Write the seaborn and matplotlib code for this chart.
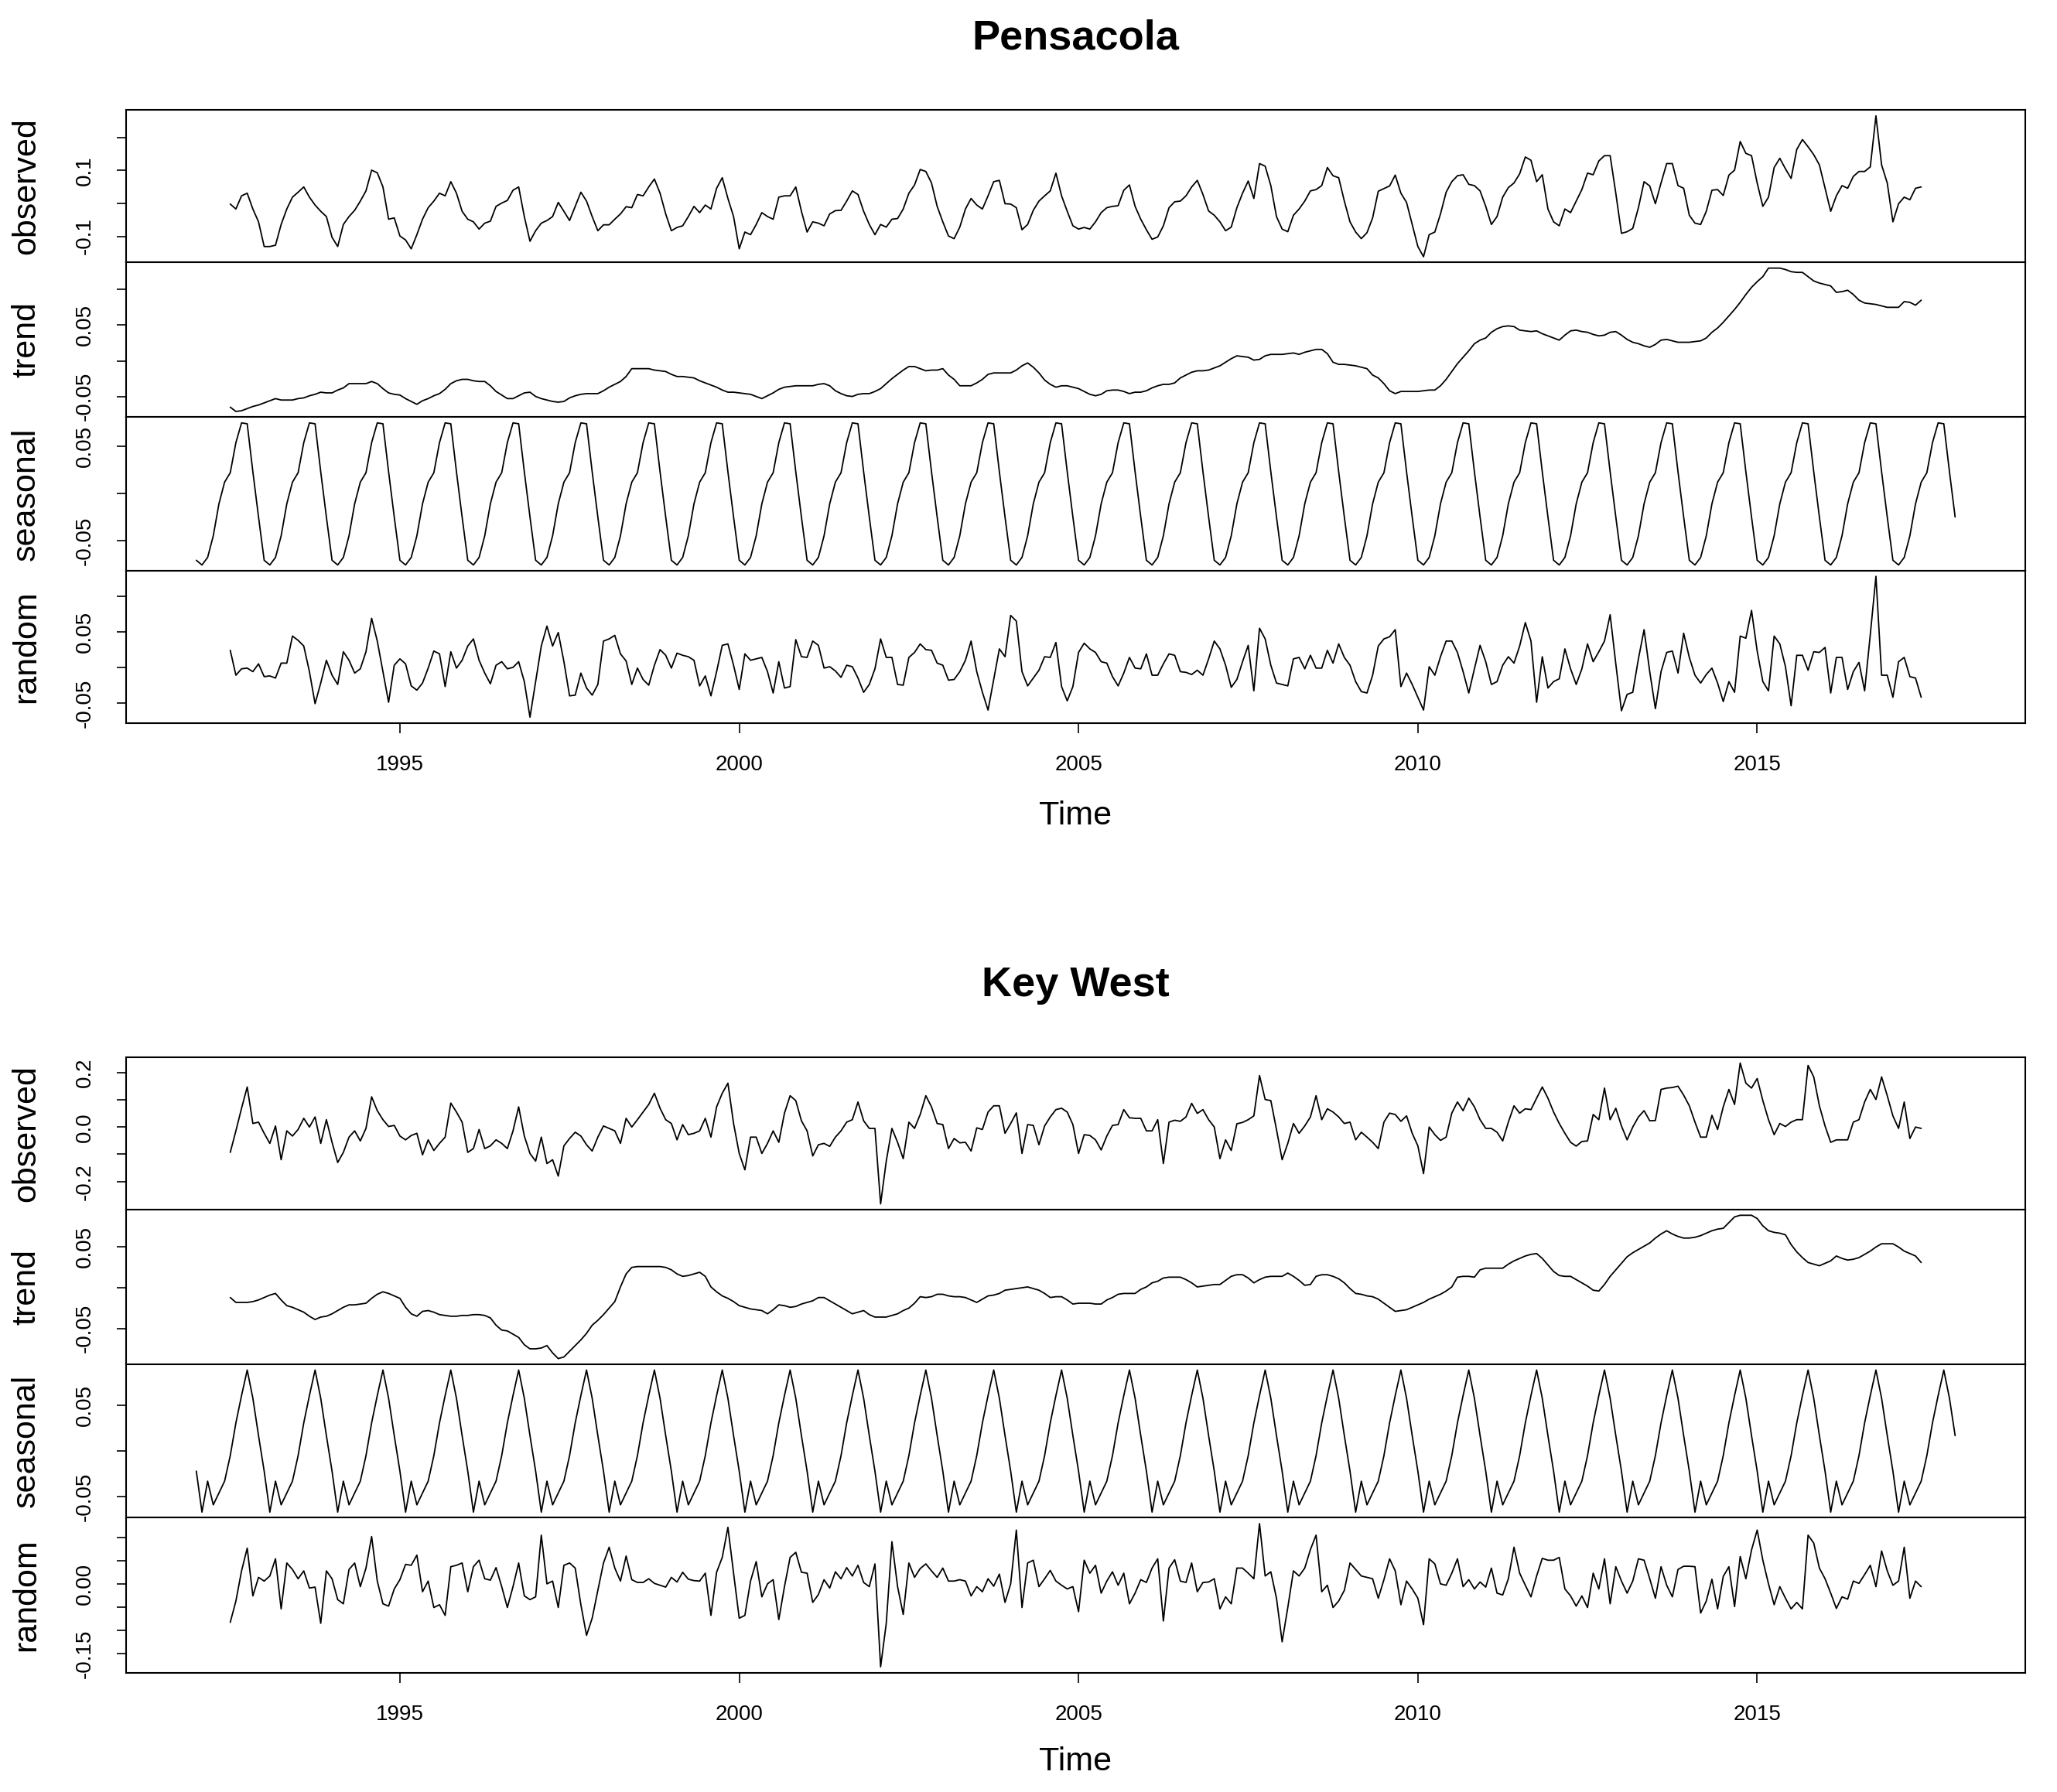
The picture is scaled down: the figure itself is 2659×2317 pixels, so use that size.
import numpy as np
import matplotlib
matplotlib.use("Agg")
import matplotlib.pyplot as plt
import seaborn as sns

# monthly series, observed / trend / random: Jul 1992 .. Jun 2017 (one row = Jul..Jun)
pens_observed = [
    -0.002, -0.017, 0.023, 0.031, -0.017, -0.056, -0.131, -0.131, -0.127, -0.064, -0.017, 0.019,
    0.034, 0.050, 0.019, -0.005, -0.024, -0.040, -0.103, -0.131, -0.064, -0.040, -0.021, 0.007,
    0.038, 0.101, 0.093, 0.050, -0.048, -0.044, -0.099, -0.111, -0.138, -0.095, -0.048, -0.013,
    0.007, 0.031, 0.023, 0.066, 0.031, -0.024, -0.048, -0.056, -0.078, -0.060, -0.054, -0.009,
    0.001, 0.009, 0.040, 0.050, -0.040, -0.115, -0.083, -0.060, -0.052, -0.040, 0.003, -0.024,
    -0.052, -0.009, 0.034, 0.007, -0.040, -0.083, -0.065, -0.065, -0.048, -0.032, -0.010, -0.013,
    0.027, 0.023, 0.050, 0.074, 0.031, -0.032, -0.083, -0.073, -0.068, -0.040, -0.009, -0.028,
    -0.005, -0.017, 0.046, 0.078, 0.015, -0.040, -0.138, -0.087, -0.095, -0.064, -0.028, -0.040,
    -0.048, 0.019, 0.023, 0.023, 0.050, -0.024, -0.087, -0.056, -0.060, -0.068, -0.032, -0.022,
    -0.021, 0.007, 0.038, 0.027, -0.024, -0.064, -0.095, -0.064, -0.072, -0.048, -0.046, -0.017,
    0.031, 0.056, 0.103, 0.097, 0.062, -0.009, -0.056, -0.099, -0.107, -0.072, -0.017, 0.015,
    -0.005, -0.017, 0.023, 0.066, 0.070, -0.001, -0.002, -0.013, -0.080, -0.064, -0.021, 0.007,
    0.023, 0.038, 0.092, 0.023, -0.024, -0.068, -0.078, -0.073, -0.078, -0.056, -0.028, -0.013,
    -0.009, -0.007, 0.040, 0.056, -0.009, -0.048, -0.080, -0.109, -0.102, -0.068, -0.013, 0.005,
    0.007, 0.023, 0.050, 0.070, 0.027, -0.023, -0.036, -0.056, -0.083, -0.072, -0.013, 0.031,
    0.068, 0.015, 0.121, 0.113, 0.054, -0.040, -0.078, -0.086, -0.036, -0.017, 0.007, 0.038,
    0.042, 0.054, 0.109, 0.084, 0.078, 0.007, -0.056, -0.087, -0.107, -0.089, -0.044, 0.037,
    0.045, 0.053, 0.086, 0.031, 0.003, -0.064, -0.131, -0.162, -0.095, -0.087, -0.032, 0.034,
    0.066, 0.084, 0.087, 0.058, 0.054, 0.038, -0.009, -0.064, -0.040, 0.019, 0.048, 0.062,
    0.090, 0.141, 0.131, 0.066, 0.087, -0.017, -0.056, -0.068, -0.017, -0.028, 0.007, 0.042,
    0.092, 0.087, 0.129, 0.145, 0.145, 0.031, -0.091, -0.086, -0.076, -0.013, 0.066, 0.053,
    -0.001, 0.062, 0.121, 0.121, 0.054, 0.046, -0.036, -0.060, -0.064, -0.024, 0.040, 0.042,
    0.024, 0.086, 0.101, 0.188, 0.152, 0.145, 0.062, -0.009, 0.019, 0.109, 0.137, 0.105,
    0.076, 0.164, 0.194, 0.172, 0.148, 0.117, 0.046, -0.024, 0.023, 0.054, 0.046, 0.082,
    0.097, 0.097, 0.111, 0.266, 0.117, 0.062, -0.056, -0.001, 0.019, 0.011, 0.046, 0.050,
]

pens_trend = [
    -0.065, -0.071, -0.070, -0.067, -0.064, -0.062, -0.059, -0.056, -0.053, -0.055, -0.055, -0.055,
    -0.053, -0.052, -0.049, -0.047, -0.044, -0.045, -0.045, -0.041, -0.038, -0.032, -0.032, -0.032,
    -0.032, -0.029, -0.032, -0.039, -0.045, -0.047, -0.048, -0.053, -0.057, -0.061, -0.056, -0.053,
    -0.049, -0.046, -0.040, -0.032, -0.028, -0.026, -0.026, -0.028, -0.029, -0.029, -0.035, -0.043,
    -0.048, -0.053, -0.053, -0.049, -0.045, -0.044, -0.050, -0.053, -0.055, -0.057, -0.058, -0.057,
    -0.052, -0.049, -0.047, -0.046, -0.046, -0.046, -0.042, -0.037, -0.033, -0.029, -0.022, -0.011,
    -0.011, -0.011, -0.011, -0.013, -0.014, -0.015, -0.019, -0.022, -0.022, -0.023, -0.024, -0.028,
    -0.031, -0.034, -0.037, -0.041, -0.044, -0.044, -0.045, -0.046, -0.047, -0.050, -0.053, -0.049,
    -0.045, -0.040, -0.037, -0.036, -0.035, -0.035, -0.035, -0.035, -0.033, -0.032, -0.035, -0.042,
    -0.046, -0.049, -0.050, -0.047, -0.046, -0.046, -0.043, -0.039, -0.032, -0.025, -0.019, -0.013,
    -0.008, -0.008, -0.011, -0.014, -0.013, -0.013, -0.011, -0.020, -0.026, -0.035, -0.035, -0.035,
    -0.031, -0.026, -0.019, -0.017, -0.017, -0.017, -0.017, -0.013, -0.007, -0.003, -0.009, -0.017,
    -0.027, -0.033, -0.037, -0.035, -0.035, -0.037, -0.039, -0.043, -0.047, -0.049, -0.047, -0.042,
    -0.041, -0.041, -0.043, -0.046, -0.044, -0.044, -0.042, -0.038, -0.035, -0.033, -0.033, -0.031,
    -0.024, -0.020, -0.016, -0.014, -0.014, -0.013, -0.010, -0.007, -0.002, 0.003, 0.007, 0.006,
    0.005, 0.001, 0.002, 0.007, 0.009, 0.009, 0.009, 0.010, 0.011, 0.009, 0.012, 0.014,
    0.016, 0.016, 0.010, -0.002, -0.005, -0.005, -0.006, -0.007, -0.009, -0.011, -0.020, -0.024,
    -0.032, -0.042, -0.046, -0.043, -0.043, -0.043, -0.043, -0.042, -0.041, -0.041, -0.035, -0.026,
    -0.015, -0.004, 0.005, 0.014, 0.024, 0.029, 0.032, 0.040, 0.045, 0.048, 0.049, 0.048,
    0.043, 0.042, 0.041, 0.042, 0.038, 0.035, 0.032, 0.029, 0.036, 0.042, 0.043, 0.041,
    0.040, 0.037, 0.035, 0.036, 0.040, 0.041, 0.036, 0.030, 0.026, 0.024, 0.021, 0.019,
    0.023, 0.029, 0.030, 0.028, 0.026, 0.026, 0.026, 0.027, 0.028, 0.032, 0.040, 0.046,
    0.054, 0.063, 0.072, 0.082, 0.093, 0.103, 0.111, 0.118, 0.130, 0.130, 0.130, 0.128,
    0.125, 0.124, 0.124, 0.118, 0.112, 0.109, 0.107, 0.105, 0.096, 0.097, 0.099, 0.093,
    0.085, 0.081, 0.080, 0.079, 0.077, 0.075, 0.075, 0.075, 0.083, 0.082, 0.078, 0.085,
]

# seasonal figure, Jan..Dec (repeats every year of the decomposition)
pens_seasonal_12 = [-0.071, -0.076, -0.068, -0.045, -0.011, 0.012,
                    0.022, 0.054, 0.075, 0.074, 0.023, -0.025]

pens_random = [
    0.024, -0.011, -0.002, -0.001, -0.006, 0.005, -0.013, -0.012, -0.015, 0.006, 0.006, 0.044,
    0.038, 0.030, -0.006, -0.051, -0.022, 0.010, -0.011, -0.024, 0.022, 0.010, -0.008, -0.002,
    0.022, 0.069, 0.037, -0.006, -0.049, 0.003, 0.012, 0.005, -0.026, -0.032, -0.022, -0.001,
    0.023, 0.019, -0.027, 0.022, -0.001, 0.010, 0.030, 0.040, 0.010, -0.008, -0.023, 0.003,
    0.008, -0.002, 0.000, 0.008, -0.020, -0.070, -0.020, 0.030, 0.058, 0.030, 0.049, 0.008,
    -0.040, -0.039, -0.008, -0.029, -0.039, -0.024, 0.037, 0.040, 0.045, 0.019, 0.009, -0.024,
    -0.001, -0.017, -0.025, 0.003, 0.025, 0.017, -0.001, 0.020, 0.017, 0.015, 0.010, -0.026,
    -0.012, -0.040, -0.006, 0.031, 0.033, 0.003, -0.031, 0.019, 0.010, 0.012, 0.014, -0.006,
    -0.036, 0.008, -0.029, -0.027, 0.039, 0.015, 0.014, 0.037, 0.031, -0.001, 0.001, -0.005,
    -0.014, 0.003, 0.001, -0.015, -0.035, -0.024, -0.002, 0.040, 0.014, 0.014, -0.024, -0.025,
    0.014, 0.021, 0.033, 0.025, 0.024, 0.006, 0.003, -0.018, -0.017, -0.006, 0.010, 0.037,
    -0.006, -0.035, -0.060, -0.017, 0.026, 0.015, 0.073, 0.065, -0.006, -0.026, -0.015, -0.004,
    0.015, 0.014, 0.035, -0.027, -0.047, -0.027, 0.021, 0.034, 0.026, 0.021, 0.008, 0.006,
    -0.013, -0.026, -0.008, 0.014, -0.001, -0.002, 0.019, -0.011, -0.011, 0.005, 0.019, 0.017,
    -0.006, -0.007, -0.010, -0.004, -0.011, 0.012, 0.037, 0.026, 0.003, -0.028, -0.017, 0.008,
    0.031, -0.033, 0.055, 0.040, 0.003, -0.022, -0.024, -0.026, 0.012, 0.014, -0.002, 0.017,
    -0.001, -0.001, 0.024, 0.006, 0.033, 0.014, 0.003, -0.020, -0.034, -0.036, -0.011, 0.030,
    0.040, 0.043, 0.053, -0.027, -0.008, -0.024, -0.042, -0.060, 0.001, -0.011, 0.015, 0.037,
    0.037, 0.021, -0.006, -0.036, -0.002, 0.031, 0.008, -0.024, -0.020, 0.003, 0.015, 0.006,
    0.030, 0.063, 0.037, -0.049, 0.015, -0.029, -0.020, -0.016, 0.026, -0.002, -0.024, -0.002,
    0.033, 0.008, 0.022, 0.037, 0.074, 0.005, -0.061, -0.038, -0.035, 0.012, 0.053, -0.006,
    -0.058, -0.006, 0.021, 0.023, -0.008, 0.048, 0.014, -0.011, -0.022, -0.010, -0.001, -0.022,
    -0.048, -0.020, -0.035, 0.044, 0.041, 0.080, 0.023, -0.020, -0.033, 0.044, 0.033, 0.001,
    -0.054, 0.017, 0.017, -0.004, 0.022, 0.021, 0.028, -0.036, 0.014, 0.014, -0.031, -0.006,
    0.007, -0.033, 0.046, 0.128, -0.011, -0.011, -0.042, 0.008, 0.014, -0.013, -0.015, -0.042,
]

kw_observed = [
    -0.093, -0.014, 0.069, 0.147, 0.013, 0.018, -0.023, -0.060, 0.004, -0.120, -0.014, -0.033,
    -0.009, 0.032, 0.000, 0.037, -0.060, 0.027, -0.056, -0.130, -0.093, -0.037, -0.014, -0.051,
    -0.005, 0.111, 0.060, 0.027, 0.002, 0.006, -0.033, -0.047, -0.031, -0.023, -0.102, -0.047,
    -0.086, -0.060, -0.037, 0.088, 0.055, 0.018, -0.093, -0.079, -0.009, -0.079, -0.069, -0.047,
    -0.060, -0.079, -0.014, 0.074, -0.033, -0.097, -0.125, -0.037, -0.134, -0.120, -0.180, -0.069,
    -0.042, -0.019, -0.033, -0.065, -0.088, -0.037, 0.004, -0.005, -0.014, -0.060, 0.032, 0.000,
    0.027, 0.055, 0.083, 0.124, 0.069, 0.027, 0.013, -0.047, 0.009, -0.028, -0.023, -0.014,
    0.032, -0.037, 0.074, 0.124, 0.161, 0.013, -0.097, -0.157, -0.037, -0.037, -0.097, -0.060,
    -0.014, -0.056, 0.051, 0.115, 0.097, 0.023, -0.014, -0.106, -0.065, -0.060, -0.071, -0.037,
    -0.014, 0.018, 0.027, 0.092, 0.023, -0.005, -0.005, -0.282, -0.125, -0.005, -0.056, -0.116,
    0.018, -0.005, 0.046, 0.115, 0.074, 0.013, 0.009, -0.079, -0.042, -0.058, -0.056, -0.088,
    -0.003, -0.009, 0.055, 0.078, 0.078, -0.023, 0.013, 0.052, -0.097, 0.009, 0.006, -0.065,
    0.004, 0.037, 0.064, 0.069, 0.055, 0.009, -0.097, -0.028, -0.031, -0.047, -0.084, -0.033,
    0.006, 0.009, 0.064, 0.034, 0.032, 0.032, -0.014, -0.014, 0.027, -0.134, 0.018, 0.025,
    0.021, 0.037, 0.087, 0.050, 0.064, 0.027, 0.000, -0.116, -0.047, -0.086, 0.012, 0.017,
    0.027, 0.041, 0.189, 0.101, 0.097, -0.009, -0.120, -0.060, 0.013, -0.023, 0.004, 0.037,
    0.115, 0.027, 0.067, 0.055, 0.037, 0.013, 0.018, -0.047, -0.019, -0.037, -0.056, -0.079,
    0.018, 0.051, 0.046, 0.021, 0.041, -0.023, -0.069, -0.171, 0.000, -0.028, -0.049, -0.037,
    0.051, 0.092, 0.060, 0.106, 0.074, 0.027, -0.005, -0.005, -0.019, -0.051, 0.018, 0.078,
    0.051, 0.067, 0.064, 0.106, 0.147, 0.106, 0.055, 0.013, -0.023, -0.056, -0.070, -0.053,
    -0.051, 0.046, 0.027, 0.143, 0.027, 0.069, 0.004, -0.047, 0.000, 0.037, 0.060, 0.023,
    0.024, 0.138, 0.143, 0.145, 0.150, 0.117, 0.078, 0.018, -0.037, -0.037, 0.043, -0.009,
    0.074, 0.138, 0.083, 0.235, 0.161, 0.143, 0.178, 0.097, 0.027, -0.028, 0.013, 0.002,
    0.018, 0.027, 0.027, 0.226, 0.184, 0.078, 0.004, -0.056, -0.047, -0.047, -0.047, 0.018,
    0.027, 0.092, 0.138, 0.101, 0.184, 0.115, 0.041, -0.005, 0.092, -0.042, 0.000, -0.005,
]

kw_trend = [
    -0.012, -0.018, -0.018, -0.018, -0.017, -0.015, -0.012, -0.009, -0.007, -0.015, -0.022, -0.024,
    -0.027, -0.030, -0.035, -0.039, -0.036, -0.035, -0.032, -0.028, -0.024, -0.021, -0.021, -0.020,
    -0.019, -0.013, -0.008, -0.005, -0.007, -0.010, -0.013, -0.024, -0.032, -0.035, -0.029, -0.028,
    -0.030, -0.033, -0.034, -0.035, -0.035, -0.034, -0.034, -0.033, -0.033, -0.034, -0.037, -0.046,
    -0.052, -0.053, -0.057, -0.061, -0.070, -0.075, -0.075, -0.074, -0.071, -0.080, -0.087, -0.085,
    -0.078, -0.071, -0.064, -0.056, -0.046, -0.040, -0.033, -0.025, -0.017, 0.001, 0.017, 0.025,
    0.026, 0.026, 0.026, 0.026, 0.026, 0.025, 0.022, 0.017, 0.014, 0.015, 0.017, 0.019,
    0.014, 0.001, -0.005, -0.010, -0.013, -0.017, -0.022, -0.024, -0.026, -0.027, -0.028, -0.032,
    -0.027, -0.021, -0.022, -0.024, -0.023, -0.020, -0.018, -0.016, -0.012, -0.012, -0.016, -0.020,
    -0.024, -0.028, -0.032, -0.030, -0.028, -0.033, -0.036, -0.036, -0.036, -0.034, -0.032, -0.028,
    -0.025, -0.019, -0.011, -0.012, -0.011, -0.008, -0.008, -0.010, -0.011, -0.011, -0.012, -0.015,
    -0.018, -0.014, -0.010, -0.009, -0.007, -0.003, -0.002, -0.001, 0.000, 0.001, -0.001, -0.003,
    -0.007, -0.012, -0.011, -0.011, -0.015, -0.020, -0.019, -0.019, -0.019, -0.020, -0.020, -0.015,
    -0.012, -0.008, -0.007, -0.007, -0.007, -0.002, 0.001, 0.006, 0.008, 0.012, 0.013, 0.013,
    0.013, 0.010, 0.006, 0.001, 0.002, 0.003, 0.004, 0.004, 0.009, 0.014, 0.016, 0.016,
    0.012, 0.006, 0.010, 0.013, 0.014, 0.014, 0.014, 0.018, 0.014, 0.009, 0.003, 0.004,
    0.014, 0.016, 0.016, 0.014, 0.011, 0.006, -0.001, -0.007, -0.008, -0.010, -0.011, -0.014,
    -0.019, -0.024, -0.029, -0.028, -0.027, -0.024, -0.021, -0.018, -0.014, -0.011, -0.008, -0.004,
    0.001, 0.013, 0.014, 0.014, 0.013, 0.022, 0.024, 0.024, 0.024, 0.024, 0.029, 0.033,
    0.036, 0.039, 0.041, 0.042, 0.036, 0.028, 0.020, 0.015, 0.014, 0.014, 0.010, 0.006,
    0.002, -0.003, -0.004, 0.004, 0.014, 0.022, 0.030, 0.038, 0.043, 0.047, 0.051, 0.055,
    0.061, 0.066, 0.070, 0.066, 0.063, 0.061, 0.061, 0.062, 0.064, 0.067, 0.070, 0.072,
    0.073, 0.080, 0.087, 0.089, 0.089, 0.089, 0.085, 0.076, 0.070, 0.068, 0.067, 0.065,
    0.053, 0.044, 0.037, 0.031, 0.029, 0.027, 0.030, 0.033, 0.039, 0.036, 0.034, 0.035,
    0.037, 0.041, 0.045, 0.050, 0.054, 0.054, 0.054, 0.050, 0.045, 0.042, 0.039, 0.031,
]

kw_seasonal_12 = [-0.022, -0.067, -0.033, -0.059, -0.046, -0.033,
                  -0.005, 0.031, 0.061, 0.089, 0.058, 0.017]

kw_random = [
    -0.083, -0.037, 0.028, 0.077, -0.026, 0.014, 0.006, 0.017, 0.054, -0.054, 0.045, 0.031,
    0.011, 0.028, -0.009, -0.007, -0.085, 0.028, 0.011, -0.034, -0.043, 0.031, 0.045, -0.006,
    0.034, 0.102, 0.006, -0.043, -0.048, -0.011, 0.009, 0.042, 0.040, 0.062, -0.017, 0.006,
    -0.051, -0.045, -0.068, 0.037, 0.040, 0.045, -0.017, 0.037, 0.051, 0.011, 0.008, 0.035,
    -0.006, -0.051, -0.006, 0.045, -0.026, -0.034, -0.028, 0.105, 0.000, 0.006, -0.051, 0.040,
    0.045, 0.034, -0.045, -0.111, -0.074, -0.014, 0.045, 0.079, 0.034, 0.006, 0.060, 0.009,
    0.003, 0.003, 0.011, 0.001, -0.003, -0.007, 0.014, 0.004, 0.025, 0.010, 0.007, 0.006,
    0.023, -0.068, 0.025, 0.057, 0.122, 0.023, -0.074, -0.068, 0.006, 0.048, -0.028, 0.000,
    0.009, -0.077, -0.006, 0.057, 0.068, 0.025, 0.023, -0.040, -0.023, 0.009, -0.009, 0.026,
    0.011, 0.035, 0.017, 0.040, 0.003, -0.006, 0.043, -0.179, -0.085, 0.091, -0.006, -0.066,
    0.045, 0.014, 0.033, 0.043, 0.028, 0.014, 0.034, 0.006, 0.006, 0.009, 0.006, -0.026,
    -0.006, -0.017, 0.011, -0.005, 0.021, -0.040, 0.000, 0.116, -0.051, 0.045, 0.051, -0.006,
    0.011, 0.029, 0.006, -0.003, -0.011, -0.006, -0.060, 0.051, 0.023, 0.040, -0.020, 0.006,
    0.026, -0.003, 0.023, -0.043, -0.020, 0.009, 0.003, 0.034, 0.054, -0.080, 0.034, 0.052,
    0.006, 0.003, 0.045, -0.017, 0.003, 0.004, 0.011, -0.054, -0.028, -0.043, 0.034, 0.034,
    0.023, 0.011, 0.130, 0.017, 0.026, -0.031, -0.125, -0.051, 0.028, 0.017, 0.034, 0.074,
    0.105, -0.017, -0.003, -0.051, -0.037, -0.014, 0.045, 0.031, 0.017, 0.014, 0.011, -0.031,
    0.009, 0.054, 0.028, -0.045, 0.006, -0.011, -0.031, -0.088, 0.054, 0.043, 0.000, -0.003,
    0.023, 0.054, -0.006, 0.009, -0.011, 0.004, -0.007, 0.034, -0.020, -0.024, 0.011, 0.079,
    0.023, -0.003, -0.028, 0.017, 0.055, 0.051, 0.051, 0.057, -0.011, -0.026, -0.048, -0.026,
    -0.051, 0.023, -0.011, 0.054, -0.043, 0.037, 0.006, -0.020, 0.006, 0.054, 0.051, 0.011,
    -0.031, 0.037, -0.003, -0.028, 0.031, 0.038, 0.038, 0.037, -0.063, -0.037, 0.010, -0.054,
    0.016, 0.037, -0.049, 0.059, 0.011, 0.073, 0.116, 0.051, 0.000, -0.045, -0.006, -0.031,
    -0.054, -0.040, -0.054, 0.105, 0.088, 0.034, 0.011, -0.020, -0.053, -0.028, -0.033, 0.006,
    0.001, 0.020, 0.040, -0.006, 0.071, 0.028, -0.003, 0.006, 0.079, -0.031, 0.006, -0.006,
]

year_ticks = [1995, 2000, 2005, 2010, 2015]

# y ticks per panel and which of them carry a label (R drops the crowded ones)
pens_yticks = {
    "observed": ([-0.1, 0.0, 0.1, 0.2], ["-0.1", "", "0.1", ""]),
    "trend": ([-0.05, 0.0, 0.05, 0.10], ["-0.05", "", "0.05", ""]),
    "seasonal": ([-0.05, 0.0, 0.05], ["-0.05", "", "0.05"]),
    "random": ([-0.05, 0.0, 0.05, 0.10], ["-0.05", "", "0.05", ""]),
}
kw_yticks = {
    "observed": ([-0.2, -0.1, 0.0, 0.1, 0.2], ["-0.2", "", "0.0", "", "0.2"]),
    "trend": ([-0.05, 0.0, 0.05], ["-0.05", "", "0.05"]),
    "seasonal": ([-0.05, 0.0, 0.05], ["-0.05", "", "0.05"]),
    "random": ([-0.15, -0.10, -0.05, 0.0, 0.05, 0.10], ["-0.15", "", "", "0.00", "", ""]),
}

# monthly time axes
t_obs = 1992.5 + np.arange(len(pens_observed)) / 12
t_seas = 1992.0 + np.arange(26 * 12) / 12

sns.set_style("ticks")
plt.rcParams["font.family"] = ["Liberation Sans", "DejaVu Sans"]
plt.rcParams["text.color"] = "black"
plt.rcParams["xtick.color"] = "black"
plt.rcParams["ytick.color"] = "black"
plt.rcParams["axes.labelcolor"] = "black"

W, H, DPI = 2659, 2317, 100
SW, SH = 1568, 1366  # layout measured on the shrunk reference
fig = plt.figure(figsize=(W / DPI, H / DPI), dpi=DPI)
fig.patch.set_facecolor("white")

L, R = 96 / SW, 1544 / SW
XLIM = (1990.963, 2018.954)


def draw_station(name, edges, obs, trend, seas12, rand, yticks, title_y, time_y):
    panels = [
        ("observed", t_obs, obs),
        ("trend", t_obs, trend),
        ("seasonal", t_seas, np.tile(seas12, 26)),
        ("random", t_obs, rand),
    ]
    for i, (label, x, y) in enumerate(panels):
        top, bot = edges[i], edges[i + 1]
        ax = fig.add_axes([L, 1 - bot / SH, R - L, (bot - top) / SH])
        sns.lineplot(x=x, y=np.asarray(y), ax=ax, color="black", linewidth=1.3)
        lo, hi = min(y), max(y)
        pad = 0.04 * (hi - lo)
        ax.set_ylim(lo - pad, hi + pad)
        ax.set_xlim(*XLIM)
        ticks, labels = yticks[label]
        ax.set_yticks(ticks)
        ax.set_yticklabels(labels, rotation=90, va="center")
        ax.tick_params(axis="y", direction="out", length=9, width=1.2,
                       labelsize=20, pad=20, color="black", labelcolor="black")
        for sp in ax.spines.values():
            sp.set_visible(True)
            sp.set_color("black")
            sp.set_linewidth(1.5)
        ax.set_xlabel("")
        ax.set_ylabel("")
        if i == 3:
            ax.set_xticks(year_ticks)
            ax.set_xticklabels([str(v) for v in year_ticks])
            ax.tick_params(axis="x", direction="out", length=9, width=1.2,
                           labelsize=20, pad=21, color="black", labelcolor="black")
        else:
            ax.set_xticks([])
        fig.text(20 / SW, 1 - (top + bot) / 2 / SH, label, rotation=90,
                 ha="center", va="center", fontsize=31, color="black")
    fig.text(820 / SW, 1 - title_y / SH, name, ha="center", va="center",
             fontsize=39, fontweight="bold", color="black")
    fig.text(820 / SW, 1 - time_y / SH, "Time", ha="center", va="center",
             fontsize=31, color="black")


draw_station("Pensacola", [84, 200, 318, 435, 551], pens_observed, pens_trend,
             pens_seasonal_12, pens_random, pens_yticks, 29, 622)
draw_station("Key West", [806, 922, 1040, 1157, 1275], kw_observed, kw_trend,
             kw_seasonal_12, kw_random, kw_yticks, 751, 1343)

fig.savefig("out.png", dpi=DPI, facecolor="white")
